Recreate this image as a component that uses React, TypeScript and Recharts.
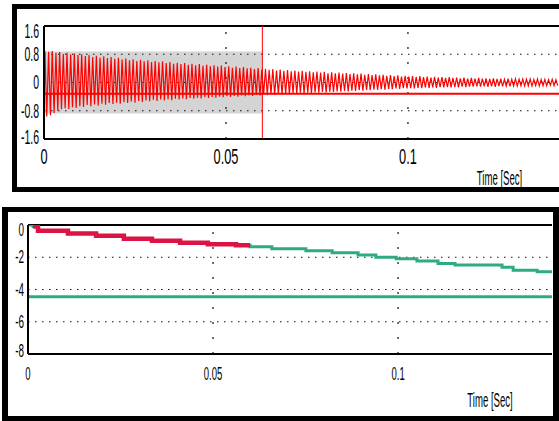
import React from "react";
import { ComposedChart, Line, XAxis, YAxis, ReferenceLine, ReferenceArea } from "recharts";

// ---------- Top panel data ----------
const topYTicks = [1.6, 0.8, 0, -0.8, -1.6];
const topXTicks = [0, 0.05, 0.1];
const topGridY = [0.8, 0, -0.8];
const gridX = [0.05, 0.1];
const wavePeriod = 0.00101; // sampling of the oscillation (s per cycle)
const wavePeaks = [
  0.90, 0.87, 0.89, 0.84, 0.86, 0.81, 0.84, 0.79, 0.82, 0.78,
  0.80, 0.75, 0.78, 0.72, 0.76, 0.70, 0.74, 0.69, 0.72, 0.67,
  0.70, 0.65, 0.68, 0.63, 0.66, 0.61, 0.64, 0.60, 0.63, 0.58,
  0.61, 0.57, 0.60, 0.55, 0.58, 0.53, 0.56, 0.52, 0.55, 0.50,
  0.53, 0.49, 0.52, 0.47, 0.50, 0.46, 0.49, 0.45, 0.48, 0.44,
  0.46, 0.42, 0.45, 0.41, 0.44, 0.40, 0.42, 0.38, 0.41, 0.37,
  0.39, 0.36, 0.38, 0.34, 0.37, 0.33, 0.35, 0.32, 0.34, 0.31,
  0.33, 0.30, 0.32, 0.29, 0.31, 0.28, 0.30, 0.26, 0.29, 0.26,
  0.28, 0.25, 0.27, 0.24, 0.26, 0.23, 0.25, 0.22, 0.24, 0.21,
  0.23, 0.20, 0.22, 0.19, 0.21, 0.18, 0.20, 0.17, 0.19, 0.17,
  0.18, 0.16, 0.18, 0.15, 0.17, 0.14, 0.16, 0.14, 0.15, 0.13,
  0.15, 0.13, 0.14, 0.12, 0.14, 0.11, 0.13, 0.11, 0.13, 0.11,
  0.12, 0.10, 0.12, 0.10, 0.11, 0.09, 0.11, 0.09, 0.10, 0.09,
  0.10, 0.09, 0.10, 0.08, 0.10, 0.08, 0.09, 0.08, 0.09, 0.08,
];
const waveTroughs = [
  -0.96, -0.93, -0.86, -0.80, -0.76, -0.73, -0.75, -0.70, -0.72, -0.67,
  -0.69, -0.64, -0.67, -0.62, -0.65, -0.60, -0.63, -0.58, -0.61, -0.57,
  -0.60, -0.56, -0.58, -0.54, -0.57, -0.52, -0.55, -0.51, -0.53, -0.49,
  -0.52, -0.48, -0.51, -0.47, -0.50, -0.46, -0.48, -0.45, -0.47, -0.44,
  -0.46, -0.43, -0.45, -0.42, -0.44, -0.41, -0.43, -0.40, -0.42, -0.39,
  -0.41, -0.38, -0.40, -0.37, -0.39, -0.36, -0.38, -0.35, -0.37, -0.34,
  -0.36, -0.33, -0.35, -0.32, -0.34, -0.31, -0.33, -0.30, -0.32, -0.29,
  -0.31, -0.29, -0.30, -0.28, -0.29, -0.27, -0.28, -0.26, -0.27, -0.25,
  -0.26, -0.24, -0.25, -0.23, -0.24, -0.22, -0.23, -0.21, -0.22, -0.20,
  -0.21, -0.19, -0.20, -0.18, -0.19, -0.17, -0.18, -0.16, -0.17, -0.16,
  -0.17, -0.15, -0.16, -0.14, -0.15, -0.14, -0.15, -0.13, -0.14, -0.13,
  -0.14, -0.13, -0.14, -0.12, -0.13, -0.12, -0.12, -0.11, -0.12, -0.11,
  -0.12, -0.11, -0.12, -0.10, -0.11, -0.10, -0.11, -0.10, -0.10, -0.09,
  -0.10, -0.09, -0.10, -0.09, -0.10, -0.09, -0.09, -0.08, -0.09, -0.09,
];
const topBandLow = -0.88;
const topBandHigh = 0.88;
const switchTime = 0.06;
const offsetLevel = -0.32;

// ---------- Bottom panel data ----------
const botYTicks = [0, -2, -4, -6, -8];
const botGridY = [-2, -4, -6];
const stepTimes = [0, 0.0014, 0.0027, 0.0108, 0.0184, 0.0259, 0.0335, 0.0411, 0.0486, 0.0562, 0.06,
  0.0659, 0.0751, 0.0822, 0.0892, 0.094, 0.0995, 0.1051, 0.1108, 0.1154, 0.1281, 0.1311, 0.1376, 0.1416];
const stepValues = [0, -0.1, -0.35, -0.52, -0.66, -0.85, -0.97, -1.1, -1.2, -1.26, -1.35,
  -1.47, -1.6, -1.72, -1.86, -2.0, -2.1, -2.24, -2.38, -2.48, -2.62, -2.8, -2.9, -2.9];
const referenceLevel = -4.45;

// ---------- build series ----------
const waveData: { t: number; v: number }[] = [{ t: 0, v: 0 }];
wavePeaks.forEach((p, i) => {
  waveData.push({ t: (i + 0.25) * wavePeriod, v: p });
  waveData.push({ t: (i + 0.75) * wavePeriod, v: waveTroughs[i] });
});
const stepData = stepTimes.map((t, i) => ({ t, v: stepValues[i] }));
const redStepData = stepData.filter((d) => d.t > 0 && d.t < switchTime);
redStepData.push({ t: switchTime, v: redStepData[redStepData.length - 1].v });

const FONT = "'Liberation Sans', Arial, sans-serif";
const RED = "#ff0000";
const CRIMSON = "#dc1444";
const GREEN = "#2fab82";
const DOT = "#111";

const makeXTick = (fontSize: number, sx: number) => (props: any) => {
  const { x, y, payload } = props;
  return (
    <g transform={`translate(${x},${y})`}>
      <text transform={`scale(${sx},1)`} textAnchor="middle" dominantBaseline="central" fontSize={fontSize} fontFamily={FONT} fill="#000">
        {payload.value}
      </text>
    </g>
  );
};

const makeYTick = (fontSize: number, sx: number, topVal: number, botVal: number, topDy: number, botDy: number) => (props: any) => {
  const { x, y, payload } = props;
  const dy = payload.value === topVal ? topDy : payload.value === botVal ? botDy : 0;
  return (
    <g transform={`translate(${x},${y + dy})`}>
      <text transform={`scale(${sx},1)`} textAnchor="end" dominantBaseline="central" fontSize={fontSize} fontFamily={FONT} fill="#000">
        {payload.value}
      </text>
    </g>
  );
};

const makeTimeLabel = (fromRight: number, dy: number, fontSize: number, sx: number) => (props: any) => {
  const vb = props.viewBox || {};
  const cx = vb.x + vb.width - fromRight;
  const cy = vb.y + dy;
  return (
    <g transform={`translate(${cx},${cy})`}>
      <text transform={`scale(${sx},1)`} textAnchor="middle" dominantBaseline="central" fontSize={fontSize} fontFamily={FONT} fill="#000">
        Time [Sec]
      </text>
    </g>
  );
};

export default function App() {
  return (
    <div style={{ position: "fixed", left: 0, top: 0, width: 559, height: 421, overflow: "hidden", background: "#fff" }}>
      {/* top frame */}
      <div style={{ position: "absolute", left: 12, top: 4, width: 620, height: 188, border: "5px solid #000", boxSizing: "border-box" }} />
      {/* bottom frame */}
      <div style={{ position: "absolute", left: 2, top: 207, width: 557, height: 214, borderStyle: "solid", borderColor: "#000", borderWidth: "5px 6px 5px 6px", boxSizing: "border-box" }} />

      <div style={{ position: "absolute", left: 0, top: 0 }}>
        <ComposedChart width={559} height={200} margin={{ top: 26, right: 0, left: 14, bottom: 21 }}>
          <XAxis
            type="number"
            dataKey="t"
            domain={[0, 0.1415]}
            ticks={topXTicks}
            allowDataOverflow
            height={40}
            tickSize={0}
            tickMargin={18}
            tickLine={false}
            axisLine={{ stroke: "#000", strokeWidth: 2 }}
            tick={makeXTick(22, 0.58)}
            label={{ content: makeTimeLabel(59.5, 38.5, 20, 0.48) }}
          />
          <YAxis
            type="number"
            domain={[-1.6, 1.6]}
            ticks={topYTicks}
            allowDataOverflow
            width={30}
            tickSize={0}
            tickMargin={5}
            tickLine={false}
            axisLine={{ stroke: "#000", strokeWidth: 2 }}
            tick={makeYTick(21, 0.5, 1.6, -1.6, 5, -2)}
          />
          <ReferenceArea x1={0} x2={switchTime} y1={topBandLow} y2={topBandHigh} fill="#d4d4d4" fillOpacity={1} stroke="none" />
          {topGridY.map((v) => (
            <ReferenceLine key={"ty" + v} y={v} stroke={DOT} strokeWidth={1.2} strokeDasharray="1.5 5.5" />
          ))}
          {gridX.map((v) => (
            <ReferenceLine key={"tx" + v} x={v} stroke={DOT} strokeWidth={1.2} strokeDasharray="2 13" />
          ))}
          <ReferenceLine y={1.6} stroke="#000" strokeWidth={2} />
          <Line data={waveData} dataKey="v" type="linear" stroke={RED} strokeWidth={1.2} dot={false} isAnimationActive={false} />
          <ReferenceLine y={offsetLevel} stroke={RED} strokeWidth={2} />
          <ReferenceLine x={switchTime} stroke={RED} strokeWidth={1} />
        </ComposedChart>
      </div>

      <div style={{ position: "absolute", left: 0, top: 200 }}>
        <ComposedChart width={559} height={221} margin={{ top: 25, right: 7, left: 0, bottom: 17 }}>
          <XAxis
            type="number"
            dataKey="t"
            domain={[0, 0.1416]}
            ticks={topXTicks}
            allowDataOverflow
            height={50}
            tickSize={0}
            tickMargin={19}
            tickLine={false}
            axisLine={{ stroke: "#000", strokeWidth: 2 }}
            tick={makeXTick(19, 0.5)}
            label={{ content: makeTimeLabel(62, 46, 20, 0.48) }}
          />
          <YAxis
            type="number"
            domain={[-8, 0]}
            ticks={botYTicks}
            allowDataOverflow
            width={28}
            tickSize={0}
            tickMargin={4}
            tickLine={false}
            axisLine={{ stroke: "#000", strokeWidth: 2 }}
            tick={makeYTick(18, 0.55, 0, -8, 5, -3)}
          />
          {botGridY.map((v) => (
            <ReferenceLine key={"by" + v} y={v} stroke={DOT} strokeWidth={1.2} strokeDasharray="1.5 5.5" />
          ))}
          {gridX.map((v) => (
            <ReferenceLine key={"bx" + v} x={v} stroke={DOT} strokeWidth={1.2} strokeDasharray="2 13" />
          ))}
          <ReferenceLine y={0} stroke="#000" strokeWidth={2} />
          <ReferenceLine y={referenceLevel} stroke={GREEN} strokeWidth={3} />
          <Line data={stepData} dataKey="v" type="stepAfter" stroke={GREEN} strokeWidth={3} dot={false} isAnimationActive={false} />
          <Line data={redStepData} dataKey="v" type="stepAfter" stroke={CRIMSON} strokeWidth={4.5} dot={false} isAnimationActive={false} />
        </ComposedChart>
      </div>
    </div>
  );
}
